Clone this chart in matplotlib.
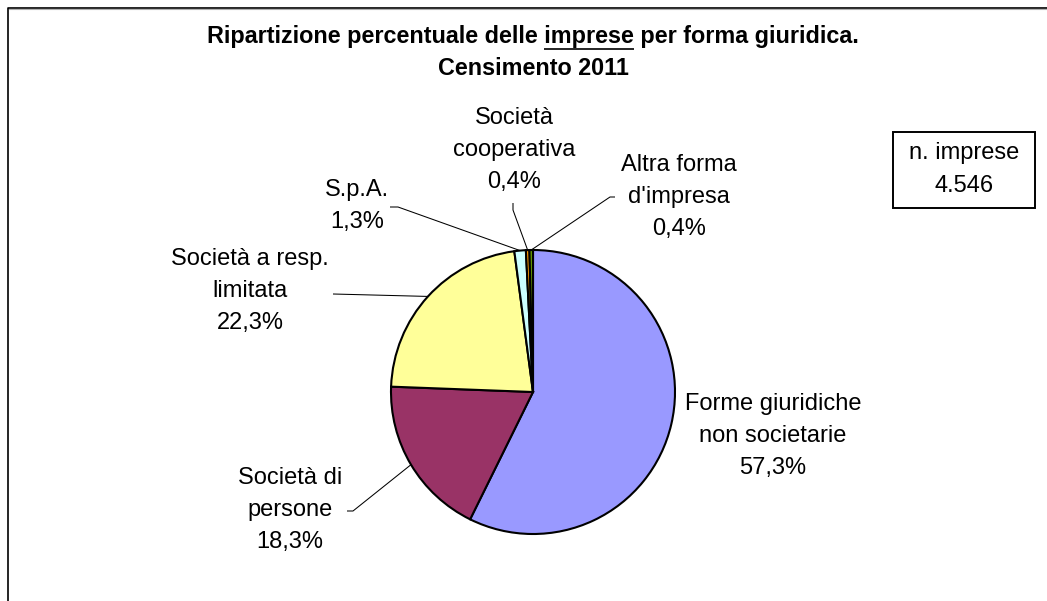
import numpy as np
import matplotlib
matplotlib.use('Agg')
import matplotlib.pyplot as plt
from matplotlib.patches import Rectangle

plt.rcParams['font.family'] = ['Liberation Sans', 'DejaVu Sans']

W, H = 1047, 601

categories = ['Forme giuridiche\nnon societarie', 'Società di\npersone', 'Società a resp.\nlimitata',
              'S.p.A.', 'Società\ncooperativa', "Altra forma\nd'impresa"]
shares = [57.3, 18.3, 22.3, 1.3, 0.4, 0.4]
n_imprese = 4546
colors = ['#9999FF', '#993366', '#FFFF99', '#CCFFFF', '#FF9900', '#669900']

# label centres and leader-line elbows, in pixels (y grows downwards)
label_pos = [(773, 436), (290, 510), (250, 291), (357, 206), (514, 150), (679, 197)]
leader_pts = [None, [(347, 511), (353, 511)], [(333, 294)], [(390, 207), (398, 207)],
              [(513, 203), (513, 210)], [(615, 197), (610, 197)]]

centre = (533, 392)
radius = 142
LABEL_FS = 17
TITLE_FS = 16.8


def fmt_pct(v):
    return f'{v:.1f}%'.replace('.', ',')


def fmt_int(v):
    return f'{v:,}'.replace(',', '.')


fig = plt.figure(figsize=(W / 100, H / 100), dpi=100)
ax = fig.add_axes([0, 0, 1, 1])

# y axis is inverted, so counterclockwise from -90 runs clockwise from the top on screen
wedges, _ = ax.pie(shares, colors=colors, startangle=-90, counterclock=True,
                   center=centre, radius=radius,
                   wedgeprops=dict(edgecolor='black', linewidth=1.5))
ax.set_xlim(0, W)
ax.set_ylim(H, 0)
ax.set_aspect('equal')
ax.axis('off')

for w, cat, val, pos, pts in zip(wedges, categories, shares, label_pos, leader_pts):
    ax.text(pos[0], pos[1], f'{cat}\n{fmt_pct(val)}', ha='center', va='center',
            fontsize=LABEL_FS, linespacing=1.6)
    if pts is None:
        continue
    mid = np.deg2rad((w.theta1 + w.theta2) / 2)
    edge = (centre[0] + radius * np.cos(mid), centre[1] + radius * np.sin(mid))
    xs = [p[0] for p in pts] + [edge[0]]
    ys = [p[1] for p in pts] + [edge[1]]
    ax.plot(xs, ys, color='black', linewidth=0.75, solid_capstyle='butt')

# title, with the word "imprese" underlined
pre, word, post = 'Ripartizione percentuale delle ', 'imprese', ' per forma giuridica.'
t1 = ax.text(533, 43, pre + word + post, ha='center', va='baseline',
             fontsize=TITLE_FS, fontweight='bold')
ax.text(533, 75, 'Censimento 2011', ha='center', va='baseline',
        fontsize=TITLE_FS, fontweight='bold')

fig.canvas.draw()
r = fig.canvas.get_renderer()


def text_width(s):
    tmp = ax.text(0, 0, s, fontsize=TITLE_FS, fontweight='bold')
    wpx = tmp.get_window_extent(renderer=r).width
    tmp.remove()
    return wpx


bb = t1.get_window_extent(renderer=r)
x_end = bb.x0 + text_width(pre + word)
x_start = x_end - text_width(word)
ax.plot([x_start, x_end], [49, 49], color='black', linewidth=1.2,
        solid_capstyle='butt')

# count box
ax.add_patch(Rectangle((893, 132), 142, 76, facecolor='white', edgecolor='black',
                       linewidth=1.4))
ax.text(964, 153, 'n. imprese', ha='center', va='center', fontsize=LABEL_FS)
ax.text(964, 186, fmt_int(n_imprese), ha='center', va='center', fontsize=LABEL_FS)

# outer frame (only left and top edges fall inside the image)
ax.plot([7.5, 7.5, W], [H, 7.5, 7.5], color='black', linewidth=1.2)
ax.plot([9, W], [9.2, 9.2], color='#b0b0b0', linewidth=0.8)

fig.savefig('out.png', dpi=100)
